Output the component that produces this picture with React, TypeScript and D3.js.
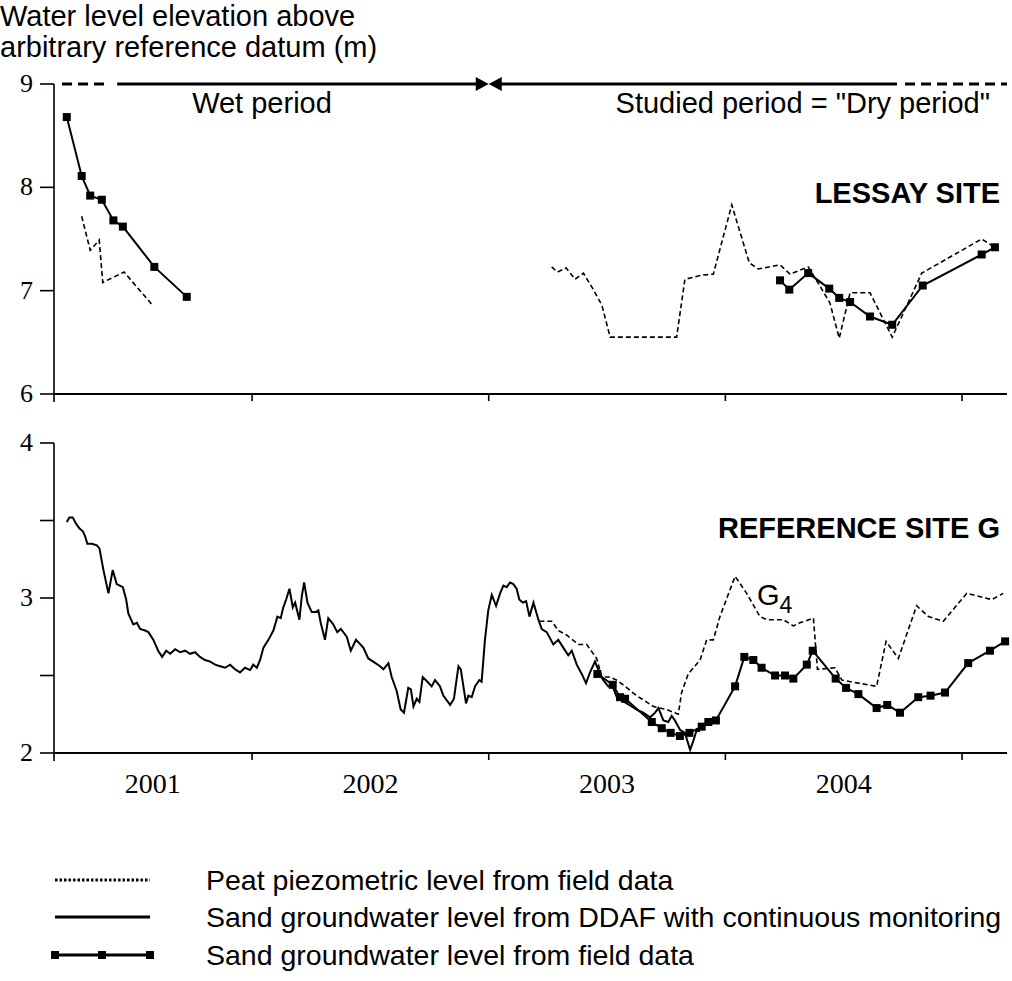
import React from 'react';
import * as d3 from 'd3';

// x axis: decimal years, y: water level (m)
const yearTicks = [2002, 2003, 2004, 2005];
const yearLabels = ['2001', '2002', '2003', '2004'];
const yearLabelAt = [2001.58, 2002.5, 2003.5, 2004.5];

const lessayTicks = [6, 7, 8, 9];
const refTicks = [2, 2.5, 3, 3.5, 4];
const refLabels = [2, 3, 4];

// period bar along the top (years)
const wetDashed = [2001.197, 2001.4];
const wetSolid = [2001.43, 2003];
const drySolid = [2003, 2004.725];
const dryDashed = [2004.759, 2005.19];

// LESSAY SITE
const lessayFieldWet: [number, number][] = [
  [2001.217, 8.68], [2001.28, 8.11], [2001.316, 7.92], [2001.365, 7.88],
  [2001.414, 7.68], [2001.454, 7.62], [2001.587, 7.23], [2001.724, 6.94],
];
const lessayPeatWet: [number, number][] = [
  [2001.28, 7.72], [2001.316, 7.39], [2001.354, 7.49], [2001.369, 7.08],
  [2001.459, 7.18], [2001.583, 6.85],
];
const lessayPeatDry: [number, number][] = [
  [2003.266, 7.23], [2003.29, 7.18], [2003.327, 7.22], [2003.365, 7.11],
  [2003.4, 7.17], [2003.442, 7.01], [2003.478, 6.86], [2003.513, 6.55],
  [2003.794, 6.55], [2003.829, 7.11], [2003.9, 7.15], [2003.949, 7.16],
  [2004.027, 7.83], [2004.101, 7.27], [2004.139, 7.21], [2004.231, 7.25],
  [2004.273, 7.16], [2004.35, 7.23], [2004.393, 7.07], [2004.442, 6.88],
  [2004.481, 6.54], [2004.527, 6.98], [2004.611, 6.98], [2004.705, 6.55],
  [2004.83, 7.17], [2005.083, 7.5], [2005.139, 7.42],
];
const lessayFieldDry: [number, number][] = [
  [2004.231, 7.1], [2004.27, 7.01], [2004.35, 7.17], [2004.439, 7.02],
  [2004.481, 6.93], [2004.527, 6.89], [2004.611, 6.75], [2004.705, 6.67],
  [2004.834, 7.05], [2005.083, 7.35], [2005.139, 7.42],
];

// REFERENCE SITE G
const refDdaf: [number, number][] = [
  [2001.217, 3.49], [2001.228, 3.52], [2001.242, 3.52], [2001.256, 3.48],
  [2001.27, 3.45], [2001.285, 3.43], [2001.294, 3.4], [2001.304, 3.35],
  [2001.323, 3.35], [2001.344, 3.34], [2001.355, 3.32], [2001.372, 3.18],
  [2001.393, 3.03], [2001.411, 3.18], [2001.428, 3.09], [2001.454, 3.07],
  [2001.468, 2.99], [2001.477, 2.9], [2001.498, 2.83], [2001.513, 2.84],
  [2001.527, 2.8], [2001.548, 2.79], [2001.562, 2.78], [2001.583, 2.73],
  [2001.603, 2.66], [2001.62, 2.62], [2001.637, 2.66], [2001.654, 2.64],
  [2001.675, 2.67], [2001.696, 2.65], [2001.717, 2.66], [2001.738, 2.64],
  [2001.759, 2.65], [2001.78, 2.62], [2001.801, 2.6], [2001.823, 2.59],
  [2001.844, 2.57], [2001.865, 2.56], [2001.886, 2.55], [2001.907, 2.57],
  [2001.928, 2.54], [2001.949, 2.52], [2001.97, 2.55], [2001.992, 2.535],
  [2002.005, 2.57], [2002.02, 2.55], [2002.034, 2.6], [2002.048, 2.68],
  [2002.069, 2.73], [2002.09, 2.79], [2002.107, 2.88], [2002.121, 2.87],
  [2002.132, 2.94], [2002.144, 2.99], [2002.158, 3.06], [2002.172, 2.94],
  [2002.182, 2.97], [2002.2, 2.86], [2002.21, 3.01], [2002.22, 3.1],
  [2002.234, 2.97], [2002.252, 2.91], [2002.27, 2.91], [2002.28, 2.92],
  [2002.29, 2.84], [2002.308, 2.73], [2002.322, 2.87], [2002.343, 2.83],
  [2002.36, 2.78], [2002.375, 2.8], [2002.4, 2.75], [2002.417, 2.66],
  [2002.439, 2.73], [2002.47, 2.68], [2002.491, 2.61], [2002.512, 2.59],
  [2002.541, 2.56], [2002.555, 2.54], [2002.576, 2.58], [2002.59, 2.49],
  [2002.611, 2.4], [2002.628, 2.28], [2002.642, 2.26], [2002.66, 2.42],
  [2002.671, 2.41], [2002.682, 2.3], [2002.696, 2.35], [2002.707, 2.33],
  [2002.721, 2.49], [2002.741, 2.46], [2002.759, 2.43], [2002.773, 2.47],
  [2002.794, 2.43], [2002.808, 2.37], [2002.837, 2.31], [2002.853, 2.35],
  [2002.872, 2.56], [2002.882, 2.54], [2002.904, 2.32], [2002.914, 2.37],
  [2002.928, 2.36], [2002.942, 2.43], [2002.96, 2.47], [2002.97, 2.46],
  [2002.984, 2.73], [2002.998, 2.92], [2003.013, 3.02], [2003.031, 2.95],
  [2003.048, 3.03], [2003.062, 3.08], [2003.076, 3.07], [2003.09, 3.1],
  [2003.104, 3.09], [2003.118, 3.06], [2003.129, 2.99], [2003.144, 2.97],
  [2003.158, 2.98], [2003.172, 2.88], [2003.189, 2.97], [2003.21, 2.86],
  [2003.224, 2.8], [2003.245, 2.78], [2003.273, 2.7], [2003.294, 2.73],
  [2003.315, 2.68], [2003.336, 2.63], [2003.351, 2.66], [2003.372, 2.57],
  [2003.393, 2.51], [2003.411, 2.45], [2003.428, 2.52], [2003.449, 2.59],
  [2003.47, 2.51], [2003.484, 2.47], [2003.505, 2.43], [2003.526, 2.42],
  [2003.541, 2.36], [2003.562, 2.34], [2003.583, 2.32], [2003.604, 2.3],
  [2003.625, 2.28], [2003.653, 2.26], [2003.682, 2.23], [2003.703, 2.26],
  [2003.717, 2.29], [2003.738, 2.21], [2003.759, 2.2], [2003.773, 2.24],
  [2003.787, 2.21], [2003.808, 2.15], [2003.829, 2.13], [2003.851, 2.02],
  [2003.865, 2.08], [2003.879, 2.15], [2003.893, 2.14],
];
const refPeat: [number, number][] = [
  [2003.214, 2.85], [2003.266, 2.85], [2003.294, 2.79], [2003.33, 2.76],
  [2003.379, 2.7], [2003.414, 2.7], [2003.456, 2.61], [2003.478, 2.49],
  [2003.513, 2.49], [2003.541, 2.47], [2003.576, 2.43], [2003.625, 2.37],
  [2003.696, 2.3], [2003.752, 2.28], [2003.801, 2.25], [2003.815, 2.39],
  [2003.843, 2.51], [2003.893, 2.6], [2003.921, 2.73], [2003.949, 2.73],
  [2003.977, 2.88], [2004.041, 3.14], [2004.09, 3.03], [2004.146, 2.88],
  [2004.175, 2.86], [2004.245, 2.86], [2004.287, 2.82], [2004.315, 2.84],
  [2004.372, 2.87], [2004.389, 2.54], [2004.463, 2.55], [2004.492, 2.47],
  [2004.639, 2.43], [2004.679, 2.72], [2004.731, 2.61], [2004.808, 2.95],
  [2004.858, 2.88], [2004.921, 2.85], [2005.02, 3.03], [2005.126, 2.99],
  [2005.174, 3.03],
];
const refField: [number, number][] = [
  [2003.459, 2.51], [2003.524, 2.44], [2003.555, 2.36], [2003.576, 2.35],
  [2003.689, 2.2], [2003.731, 2.16], [2003.769, 2.13], [2003.808, 2.11],
  [2003.848, 2.13], [2003.9, 2.17], [2003.928, 2.2], [2003.96, 2.21],
  [2004.041, 2.43], [2004.08, 2.62], [2004.118, 2.6], [2004.153, 2.55],
  [2004.21, 2.5], [2004.252, 2.5], [2004.287, 2.48], [2004.344, 2.57],
  [2004.369, 2.66], [2004.466, 2.48], [2004.51, 2.42], [2004.562, 2.38],
  [2004.639, 2.29], [2004.684, 2.31], [2004.738, 2.26], [2004.815, 2.36],
  [2004.867, 2.37], [2004.928, 2.39], [2005.026, 2.58], [2005.118, 2.66],
  [2005.182, 2.72],
];

const SANS = '"Liberation Sans", Arial, sans-serif';
const SERIF = '"Liberation Serif", "Times New Roman", serif';

export default function App() {
  const width = 1012;
  const height = 981;

  const x = d3.scaleLinear().domain([2001.163, 2005.19]).range([54, 1007]);
  const yTop = d3.scaleLinear().domain([6, 9]).range([394, 84]);
  const yBot = d3.scaleLinear().domain([2, 4]).range([753, 443]);

  const lineTop = d3.line<[number, number]>().x(d => x(d[0])).y(d => yTop(d[1]));
  const lineBot = d3.line<[number, number]>().x(d => x(d[0])).y(d => yBot(d[1]));

  const squares = (pts: [number, number][], y: d3.ScaleLinear<number, number>, key: string) =>
    pts.map((d, i) => (
      <rect key={key + i} x={x(d[0]) - 4} y={y(d[1]) - 4} width={8} height={8} fill="#000" />
    ));

  const x0 = x.range()[0];
  const x1 = x.range()[1];
  const barY = yTop(9);
  const mid = x(wetSolid[1]);

  return (
    <svg width={width} height={height} style={{ position: 'absolute', left: 0, top: 0, background: '#fff' }}>
      {/* title */}
      <text x={0} y={26} fontFamily={SANS} fontSize={29} fill="#000">Water level elevation above</text>
      <text x={0} y={57} fontFamily={SANS} fontSize={29} fill="#000">arbitrary reference datum (m)</text>

      {/* period bar */}
      <line x1={x(wetDashed[0])} x2={x(wetDashed[1])} y1={barY} y2={barY} stroke="#000" strokeWidth={3} strokeDasharray="10 6" />
      <line x1={x(wetSolid[0])} x2={mid - 10} y1={barY} y2={barY} stroke="#000" strokeWidth={3} />
      <line x1={mid + 10} x2={x(drySolid[1])} y1={barY} y2={barY} stroke="#000" strokeWidth={3} />
      <line x1={x(dryDashed[0])} x2={x(dryDashed[1])} y1={barY} y2={barY} stroke="#000" strokeWidth={3} strokeDasharray="10 6" />
      <path d={`M${mid},${barY} L${mid - 13},${barY - 7} L${mid - 13},${barY + 7} Z`} fill="#000" />
      <path d={`M${mid},${barY} L${mid + 13},${barY - 7} L${mid + 13},${barY + 7} Z`} fill="#000" />
      <text x={262} y={113} textAnchor="middle" fontFamily={SANS} fontSize={29}>Wet period</text>
      <text x={990} y={113} textAnchor="end" fontFamily={SANS} fontSize={29}>Studied period = "Dry period"</text>

      {/* top panel axes */}
      <line x1={x0} x2={x0} y1={yTop(9)} y2={yTop(6) + 8} stroke="#000" strokeWidth={1.6} />
      <line x1={x0} x2={x1} y1={yTop(6)} y2={yTop(6)} stroke="#000" strokeWidth={2} />
      {lessayTicks.map(t => (
        <g key={'lt' + t}>
          <line x1={x0 - 14} x2={x0} y1={yTop(t)} y2={yTop(t)} stroke="#000" strokeWidth={1.6} />
          <text x={33} y={yTop(t) + 8} textAnchor="end" fontFamily={SERIF} fontSize={26}>{t}</text>
        </g>
      ))}
      {yearTicks.map(t => (
        <line key={'xt' + t} x1={x(t)} x2={x(t)} y1={yTop(6)} y2={yTop(6) + 7} stroke="#000" strokeWidth={1.6} />
      ))}

      {/* top panel series */}
      <path d={lineTop(lessayPeatWet) || ''} fill="none" stroke="#000" strokeWidth={1.6} strokeDasharray="5 3" />
      <path d={lineTop(lessayPeatDry) || ''} fill="none" stroke="#000" strokeWidth={1.6} strokeDasharray="5 3" />
      <path d={lineTop(lessayFieldWet) || ''} fill="none" stroke="#000" strokeWidth={2} />
      <path d={lineTop(lessayFieldDry) || ''} fill="none" stroke="#000" strokeWidth={2} />
      {squares(lessayFieldWet, yTop, 'lfw')}
      {squares(lessayFieldDry, yTop, 'lfd')}
      <text x={1000} y={203} textAnchor="end" fontFamily={SANS} fontWeight="bold" fontSize={29}>LESSAY SITE</text>

      {/* bottom panel axes */}
      <line x1={x0} x2={x0} y1={yBot(4)} y2={yBot(2) + 8} stroke="#000" strokeWidth={1.6} />
      <line x1={x0} x2={x1} y1={yBot(2)} y2={yBot(2)} stroke="#000" strokeWidth={2} />
      {refTicks.map(t => (
        <line key={'rt' + t} x1={x0 - 14} x2={x0} y1={yBot(t)} y2={yBot(t)} stroke="#000" strokeWidth={1.6} />
      ))}
      {refLabels.map(t => (
        <text key={'rl' + t} x={33} y={yBot(t) + 8} textAnchor="end" fontFamily={SERIF} fontSize={26}>{t}</text>
      ))}
      {yearTicks.map(t => (
        <line key={'bt' + t} x1={x(t)} x2={x(t)} y1={yBot(2)} y2={yBot(2) + 7} stroke="#000" strokeWidth={1.6} />
      ))}
      {yearLabels.map((l, i) => (
        <text key={'yl' + l} x={x(yearLabelAt[i])} y={793} textAnchor="middle" fontFamily={SERIF} fontSize={28}>{l}</text>
      ))}

      {/* bottom panel series */}
      <path d={lineBot(refPeat) || ''} fill="none" stroke="#000" strokeWidth={1.6} strokeDasharray="5 3" />
      <path d={lineBot(refDdaf) || ''} fill="none" stroke="#000" strokeWidth={2} />
      <path d={lineBot(refField) || ''} fill="none" stroke="#000" strokeWidth={2} />
      {squares(refField, yBot, 'rf')}
      <text x={1000} y={538} textAnchor="end" fontFamily={SANS} fontWeight="bold" fontSize={29}>REFERENCE SITE G</text>
      <text x={757} y={605} fontFamily={SANS} fontSize={29}>G<tspan fontSize={23} dy={8}>4</tspan></text>

      {/* legend */}
      <g fontFamily={SANS} fontSize={28.5}>
        <line x1={55} x2={150} y1={880} y2={880} stroke="#000" strokeWidth={3} strokeDasharray="2.5 2" />
        <text x={206} y={890}>Peat piezometric level from field data</text>
        <line x1={55} x2={150} y1={917} y2={917} stroke="#000" strokeWidth={3} />
        <text x={206} y={927}>Sand groundwater level from DDAF with continuous monitoring</text>
        <line x1={55} x2={150} y1={955} y2={955} stroke="#000" strokeWidth={3} />
        {[55, 102, 150].map(px => (
          <rect key={'lg' + px} x={px - 4} y={951} width={8} height={8} fill="#000" />
        ))}
        <text x={206} y={965}>Sand groundwater level from field data</text>
      </g>
    </svg>
  );
}
